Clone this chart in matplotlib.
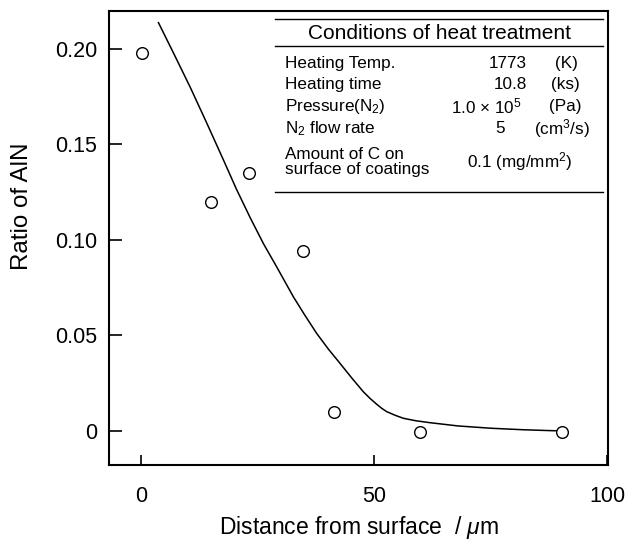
import matplotlib
matplotlib.use('Agg')
import matplotlib.pyplot as plt

# Шрифт
plt.rcParams['font.family'] = ['Liberation Sans', 'DejaVu Sans']
plt.rcParams['mathtext.fontset'] = 'custom'
plt.rcParams['mathtext.rm'] = 'Liberation Sans'
plt.rcParams['mathtext.it'] = 'Liberation Sans:italic'

# ========== Данные ==========
dist = [0.2, 15.0, 23.1, 34.8, 41.5, 59.9, 90.2]
ratio = [0.198, 0.120, 0.135, 0.094, 0.0096, -0.0005, -0.0005]

# сглаженная кривая
curve_x = [3.8, 7.0, 10.6, 14.0, 17.7, 20.5, 23.5, 26.3, 29.1, 32.7, 35.2,
           37.7, 40.2, 42.7, 45.2, 47.7, 49.2, 50.5, 51.6, 52.7, 54.5, 56.3,
           59.0, 62.0, 68.0, 75.0, 82.0, 88.4, 90.0]
curve_y = [0.2138, 0.198, 0.180, 0.162, 0.142, 0.1266, 0.1114, 0.098, 0.086,
           0.0702, 0.0604, 0.051, 0.0428, 0.0353, 0.0277, 0.0204, 0.0168,
           0.014, 0.0118, 0.010, 0.0081, 0.0065, 0.0052, 0.0042, 0.0025,
           0.0013, 0.0005, 0.0, 0.0]

x_ticks = [0, 50, 100]
y_ticks = [0, 0.05, 0.10, 0.15, 0.20]
y_ticklabels = ['0', '0.05', '0.10', '0.15', '0.20']

table_title = 'Conditions of heat treatment'
row_names = ['Heating Temp.', 'Heating time', 'Pressure(N$_2$)',
             'N$_2$ flow rate']
row_values = ['1773', '10.8', '1.0 $\\times$ 10$^5$', '5']
row_units = ['(K)', '(ks)', '(Pa)', '(cm$^3$/s)']
last_name = 'Amount of C on\nsurface of coatings'
last_value = '0.1 (mg/mm$^2$)'

# ========== Рисунок ==========
fig = plt.figure(figsize=(6.37, 5.41), dpi=100)
ax = fig.add_axes([0.1716, 0.140, 0.7834, 0.8400])

ax.plot(curve_x, curve_y, '-', color='black', linewidth=1.1)
ax.plot(dist, ratio, 'o', markersize=8.4, markerfacecolor='white',
        markeredgecolor='black', markeredgewidth=1.0, linestyle='none')

ax.set_xlim(-6.73, 100.2)
ax.set_ylim(-0.0181, 0.2200)
ax.set_xticks(x_ticks)
ax.set_yticks(y_ticks)
ax.set_yticklabels(y_ticklabels)

ax.tick_params(axis='x', direction='in', length=7.2, width=1.2,
               pad=15, labelsize=15.5)
ax.tick_params(axis='y', direction='in', length=9.4, width=1.2,
               pad=8.6, labelsize=15.5)
for s in ax.spines.values():
    s.set_linewidth(1.5)

ax.set_xlabel('Distance from surface  / $\\mu$m', fontsize=16.5, labelpad=5)
ax.set_ylabel('Ratio of AlN', fontsize=17.4)
ax.yaxis.set_label_coords(-0.153, 0.569)

# ========== Таблица условий ==========
tr = ax.transAxes
for yy in [0.9824, 0.9236, 0.6023]:
    ax.plot([0.332, 0.989], [yy, yy], color='black', linewidth=1.0,
            transform=tr, clip_on=False)

ax.text(0.6624, 0.9509, table_title, transform=tr, fontsize=15,
        ha='center', va='center')

row_y = [0.8849, 0.8371, 0.7893, 0.7403]
val_x = [0.837, 0.837, 0.7563, 0.783]
val_ha = ['right', 'right', 'center', 'center']
unit_x = [0.917, 0.914, 0.914, 0.907]
for i in range(len(row_names)):
    ax.text(0.352, row_y[i], row_names[i], transform=tr, fontsize=12.3,
            ha='left', va='center')
    ax.text(val_x[i], row_y[i], row_values[i], transform=tr, fontsize=12.3,
            ha=val_ha[i], va='center')
    ax.text(unit_x[i], row_y[i], row_units[i], transform=tr, fontsize=12.3,
            ha='center', va='center')

ax.text(0.352, 0.6676, last_name, transform=tr, fontsize=12.3,
        ha='left', va='center', linespacing=0.95)
ax.text(0.823, 0.6676, last_value, transform=tr, fontsize=12.3,
        ha='center', va='center')

plt.savefig('out.png', dpi=100)
